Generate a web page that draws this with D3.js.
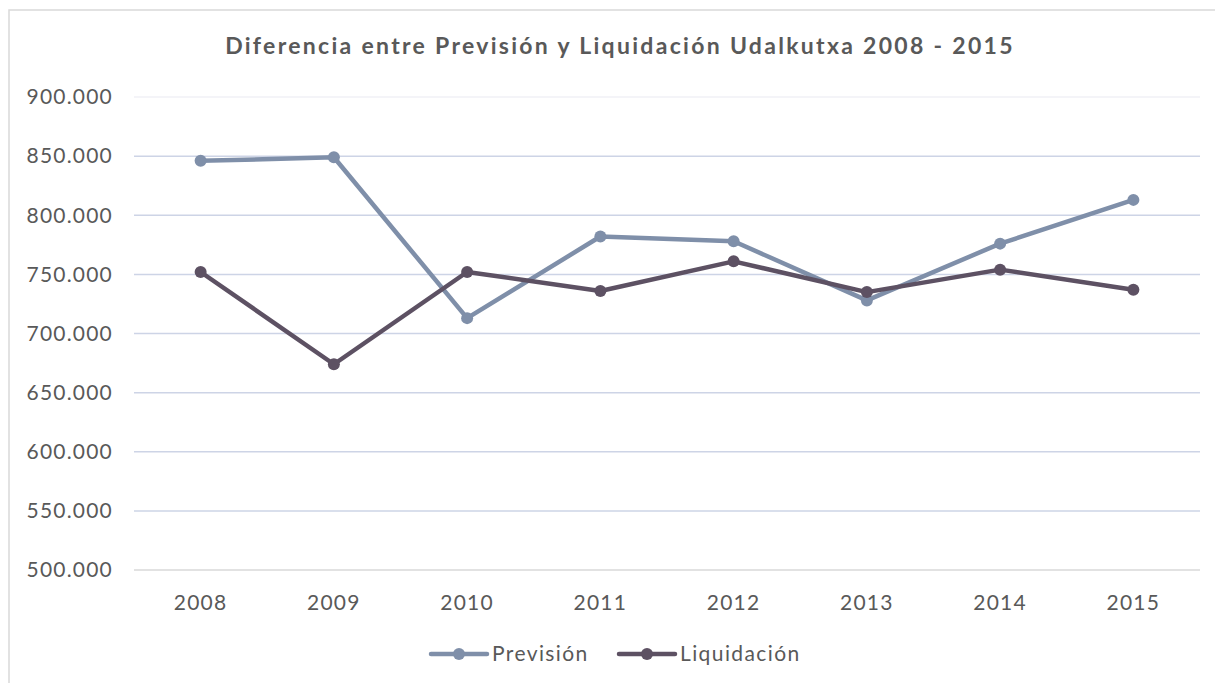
<!DOCTYPE html>
<html>
<head>
<meta charset="utf-8">
<script src="https://cdn.jsdelivr.net/npm/d3@7"></script>
<style>
  body { margin: 0; background: #fff; }
  svg { font-family: "Lato", "Open Sans", sans-serif; }
</style>
</head>
<body>
<svg width="1215" height="683"></svg>
<script>
var years = ["2008","2009","2010","2011","2012","2013","2014","2015"];
var prevision = [846000, 849000, 713000, 782000, 778000, 728000, 776000, 813000];
var liquidacion = [752000, 674000, 752000, 736000, 761000, 735000, 754000, 737000];
var yTicks = [500000, 550000, 600000, 650000, 700000, 750000, 800000, 850000, 900000];

var series = [
  {name: "Previsión", values: prevision, color: "#7f8fa9"},
  {name: "Liquidación", values: liquidacion, color: "#5d5163"}
];

var svg = d3.select("svg");

// frame of the chart area
svg.append("rect")
  .attr("x", 9).attr("y", 10)
  .attr("width", 1250).attr("height", 700)
  .attr("fill", "none")
  .attr("stroke", "#d9d9d9")
  .attr("stroke-width", 1.5);

var x = d3.scaleBand().domain(years).range([134, 1200]);
var y = d3.scaleLinear().domain([500000, 900000]).range([570, 97]);

var fmt = function(v) { return d3.format(",")(v).replace(/,/g, "."); };

// gridlines
svg.append("g")
  .selectAll("line")
  .data(yTicks)
  .enter()
  .append("line")
  .attr("x1", 134).attr("x2", 1200)
  .attr("y1", d => y(d)).attr("y2", d => y(d))
  .attr("stroke", d => d == 500000 ? "#d9d9d9" : (d == 900000 ? "#f0f1f6" : "#cdd4e6"))
  .attr("stroke-width", 1.5);

// y labels
svg.append("g")
  .selectAll("text")
  .data(yTicks)
  .enter()
  .append("text")
  .attr("x", 113)
  .attr("y", d => y(d))
  .attr("dy", "0.35em")
  .attr("text-anchor", "end")
  .attr("fill", "#595959")
  .attr("font-size", 21)
  .attr("letter-spacing", 1.2)
  .text(fmt);

// x labels
svg.append("g")
  .selectAll("text")
  .data(years)
  .enter()
  .append("text")
  .attr("x", d => x(d) + x.bandwidth() / 2)
  .attr("y", 603)
  .attr("dy", "0.35em")
  .attr("text-anchor", "middle")
  .attr("fill", "#595959")
  .attr("font-size", 21)
  .attr("letter-spacing", 1.2)
  .text(d => d);

// title
svg.append("text")
  .attr("x", 620).attr("y", 46)
  .attr("dy", "0.35em")
  .attr("text-anchor", "middle")
  .attr("fill", "#595959")
  .attr("font-size", 23)
  .attr("font-weight", "bold")
  .attr("letter-spacing", 2.3)
  .text("Diferencia entre Previsión y Liquidación Udalkutxa 2008 - 2015");

var line = d3.line()
  .x((d, i) => x(years[i]) + x.bandwidth() / 2)
  .y(d => y(d));

var layers = svg.selectAll(".serie")
  .data(series)
  .enter()
  .append("g")
  .attr("class", "serie");

layers.append("path")
  .attr("d", d => line(d.values))
  .attr("fill", "none")
  .attr("stroke", d => d.color)
  .attr("stroke-width", 4.5)
  .attr("stroke-linejoin", "round");

layers.selectAll("circle")
  .data(d => d.values.map(v => ({v: v, color: d.color})))
  .enter()
  .append("circle")
  .attr("cx", (d, i) => x(years[i]) + x.bandwidth() / 2)
  .attr("cy", d => y(d.v))
  .attr("r", 6)
  .attr("fill", d => d.color);

// legend
var legendX = [431, 619];
var leg = svg.selectAll(".leg")
  .data(series)
  .enter()
  .append("g")
  .attr("class", "leg")
  .attr("transform", (d, i) => "translate(" + legendX[i] + ",654)");

leg.append("line")
  .attr("x1", 0).attr("x2", 56)
  .attr("stroke", d => d.color)
  .attr("stroke-width", 4.5)
  .attr("stroke-linecap", "round");
leg.append("circle")
  .attr("cx", 28).attr("r", 6)
  .attr("fill", d => d.color);
leg.append("text")
  .attr("x", 61)
  .attr("dy", "0.35em")
  .attr("fill", "#595959")
  .attr("font-size", 21)
  .attr("letter-spacing", 1.4)
  .text(d => d.name);
</script>
</body>
</html>
